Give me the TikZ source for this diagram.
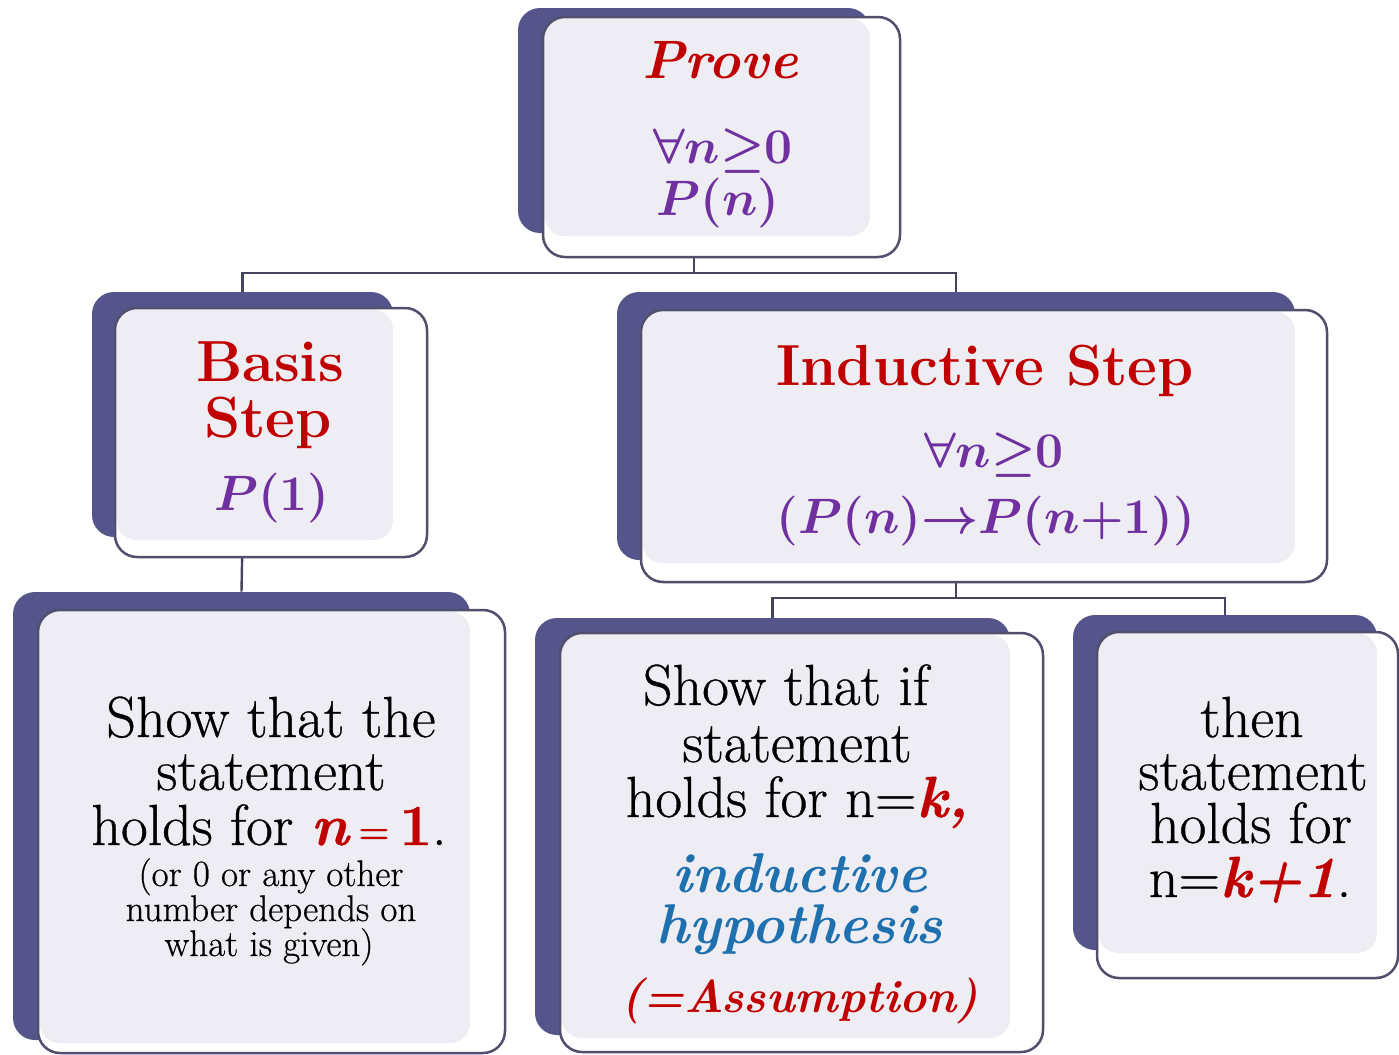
\documentclass[tikz,border=0pt]{standalone}
\usepackage{fontspec}
\usepackage{amsmath,amssymb}
\usetikzlibrary{fit,backgrounds}
\newfontfamily\bodyfont{Latin Modern Roman}[FakeBold=0.6]
\definecolor{dr}{HTML}{C00000}
\definecolor{purp}{HTML}{7030A0}
\definecolor{blu}{HTML}{1F70AE}
\definecolor{backc}{HTML}{55558C}
\definecolor{lightc}{HTML}{EDEDF3}
\definecolor{edgec}{HTML}{50506E}
\definecolor{connc}{HTML}{45455F}
\tikzset{
  backbox/.style={fill=backc, rounded corners=11pt, inner sep=0pt},
  frontbox/.style={draw=edgec, line width=1.25pt, rounded corners=11pt, inner sep=0pt},
  conn/.style={draw=connc, line width=1.2pt},
  txt/.style={inner sep=0pt, anchor=base, text=black},
  big/.style={txt, font=\fontsize{29}{29}\selectfont\bodyfont},
  small/.style={txt, font=\fontsize{18.5}{18.5}\selectfont\bodyfont},
  hd/.style={txt, font=\fontsize{29}{29}\selectfont\bfseries, text=dr},
  hdi/.style={txt, font=\fontsize{27}{27}\selectfont\bfseries\itshape, text=dr},
  mth/.style={txt, font=\fontsize{28}{28}\selectfont\boldmath, text=purp},
  blt/.style={txt, font=\fontsize{28}{28}\selectfont\bfseries\itshape, text=blu},
}
% name, back x1,y1,x2,y2, front x1,y1,x2,y2
\newcommand{\smartbox}[9]{%
  \node[backbox, fit={(#2,#3) (#4,#5)}] (#1-b) {};
  \fill[white, rounded corners=11pt] (#6,#7) rectangle (#8,#9);
  \fill[lightc, rounded corners=10pt] (#6+1.5,#7+1.5) rectangle (#4,#5+3);
  \node[frontbox, fit={(#6,#7) (#8,#9)}] (#1) {};
}
\begin{document}
\begin{tikzpicture}[x=0.5pt,y=-0.5pt]
\useasboundingbox (0,0) rectangle (1399,1055);
\begin{pgfonlayer}{background}
\fill[white] (0,0) rectangle (1399,1055);
\end{pgfonlayer}

\smartbox{top}{518}{8}{870}{233}{543}{17}{900}{257}
\smartbox{basis}{92}{292}{393}{537}{115}{308}{427}{557}
\smartbox{ind}{617}{292}{1295}{560}{641}{310}{1327}{582}
\smartbox{bl}{13}{592}{470}{1040}{38}{610}{505}{1053}
\smartbox{mid}{535}{618}{1010}{1035}{560}{633}{1043}{1052}
\smartbox{rt}{1073}{615}{1377}{950}{1097}{632}{1398}{978}

\coordinate (j1) at (694,273);
\coordinate (j2) at (956,598);
\begin{pgfonlayer}{background}
\draw[conn] (top-b.south) -- (j1);
\draw[conn] (basis-b.north) |- (j1);
\draw[conn] (ind-b.north) |- (j1);
\draw[conn] (basis-b.south) -- (bl-b.north);
\draw[conn] (ind-b.south) -- (j2);
\draw[conn] (mid-b.north) |- (j2);
\draw[conn] (rt-b.north) |- (j2);
\end{pgfonlayer}

% top box
\node[hdi] (prove) at (720,78) {Prove};
\node[mth] (topq) at (723,163) {$\forall n{\geq}0$};
\node[mth] (toppn) at (718,215) {$P(n)$};

% basis box
\node[hd] (basis1) at (270,381) {Basis};
\node[hd] (basis2) at (268,437) {Step};
\node[mth] (basis3) at (272,510) {$P(1)$};

% inductive step box
\node[hd] (ind1) at (985,385) {Inductive Step};
\node[mth] (ind2) at (994,467) {$\forall n{\geq}0$};
\node[mth] (ind3) at (986,533) {$(P(n){\rightarrow}P(n{+}1))$};

% bottom left
\node[big] (bl1) at (271,737) {Show that the};
\node[big] (bl2) at (271,790) {statement};
\node[big] (bl3) at (269,845) {holds for {\color{dr}\bfseries\itshape n\,{\fontsize{18}{18}\selectfont\upshape\raisebox{1pt}{=}}\,\upshape 1}.};
\node[small] (bl4) at (271,886) {(or 0 or any other};
\node[small] (bl5) at (271,921) {number depends on};
\node[small] (bl6) at (269,956) {what is given)};

% bottom middle
\node[big] (m1) at (786,705) {Show that if};
\node[big] (m2) at (797,762) {statement};
\node[big] (m3) at (797,817) {holds for n=\textcolor{dr}{\bfseries\itshape k,}};
\node[blt] (m4) at (800,892) {inductive};
\node[blt] (m5) at (800,943) {hypothesis};
\node[hdi, font=\fontsize{23}{23}\selectfont\bfseries\itshape] (m6) at (800,1012) {(=Assumption)};

% bottom right
\node[big] (r1) at (1252,737) {then};
\node[big] (r2) at (1253,790) {statement};
\node[big] (r3) at (1251,843) {holds for};
\node[big] (r4) at (1250,897) {n=\textcolor{dr}{\bfseries\itshape k+1}.};
\end{tikzpicture}
\end{document}
